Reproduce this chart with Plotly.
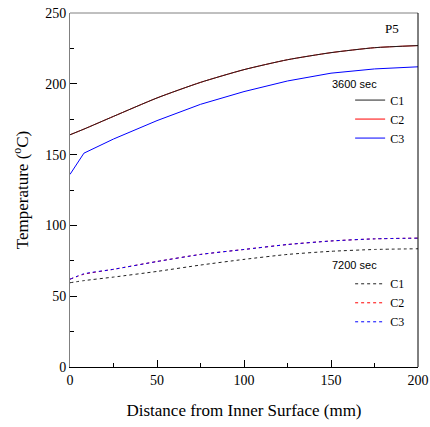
import plotly.graph_objects as go

# distance from inner surface (mm)
distance = [0, 8, 25, 50, 75, 100, 125, 150, 175, 200]

# temperature (C) after 3600 sec
t3600_c1 = [164, 168, 177, 190, 201, 210, 217, 222, 225.5, 227]
t3600_c2 = [164, 168, 177, 190, 201, 210, 217, 222, 225.5, 227]
t3600_c3 = [136, 151, 161, 174, 185.5, 194.5, 202, 207.5, 210.5, 212]

# temperature (C) after 7200 sec
t7200_c1 = [59.5, 61, 63.5, 67.5, 72, 76, 79.5, 81.7, 83, 83.5]
t7200_c2 = [62, 65.5, 69, 74.5, 79.5, 83, 86.5, 89, 90.5, 91]
t7200_c3 = [62, 65.8, 69, 74.5, 79.5, 83, 86.5, 89, 90.5, 91]

serif = "Times New Roman, Liberation Serif, DejaVu Serif, serif"
sans = "Arial, Liberation Sans, sans-serif"

fig = go.Figure()

# drawing order: C2 underneath, so C1 / C3 sit on top as in the original
# (3600 C3 has a sharp kink near the surface, so it stays linear)
series = [
    (t3600_c2, "C2", "red", "solid", "legend", 2, "spline"),
    (t3600_c1, "C1", "#202020", "solid", "legend", 1, "spline"),
    (t3600_c3, "C3", "blue", "solid", "legend", 3, "linear"),
    (t7200_c2, "C2", "red", "3px,3px", "legend2", 2, "spline"),
    (t7200_c1, "C1", "#202020", "3px,3px", "legend2", 1, "spline"),
    (t7200_c3, "C3", "blue", "3px,3px", "legend2", 3, "spline"),
]
for vals, name, color, dash, leg, rank, shape in series:
    fig.add_trace(go.Scatter(
        x=distance, y=vals, name=name, mode="lines",
        line=dict(color=color, width=1, dash=dash, shape=shape, smoothing=0.6),
        legend=leg, legendrank=rank,
    ))

legend_style = dict(
    bgcolor="rgba(0,0,0,0)",
    font=dict(family=serif, size=12, color="black"),
    itemwidth=30,
    tracegroupgap=0,
    traceorder="normal",
    xanchor="left", yanchor="top",
)

fig.update_layout(
    width=430, height=427,
    margin=dict(l=70, r=12, t=13, b=60),
    plot_bgcolor="white", paper_bgcolor="white",
    showlegend=True,
    legend=dict(x=0.805, y=0.795, **legend_style),
    legend2=dict(x=0.805, y=0.276, **legend_style),
    xaxis=dict(
        range=[0, 200], tickvals=[0, 50, 100, 150, 200],
        ticks="inside", ticklen=7, tickcolor="black",
        minor=dict(tickvals=[25, 75, 125, 175], ticks="inside", ticklen=4, tickcolor="black"),
        showgrid=False, zeroline=False, automargin=False,
        ticklabeloverflow="allow",
        showline=True, linecolor="black", linewidth=1,
        tickfont=dict(family=serif, size=14, color="black"),
        title=dict(text="Distance from Inner Surface (mm)",
                   font=dict(family=serif, size=17, color="black"), standoff=17),
    ),
    yaxis=dict(
        range=[0, 250], tickvals=[0, 50, 100, 150, 200, 250],
        ticks="inside", ticklen=7, tickcolor="black",
        minor=dict(tickvals=[25, 75, 125, 175, 225], ticks="inside", ticklen=4, tickcolor="black"),
        showgrid=False, zeroline=False, automargin=False,
        ticklabeloverflow="allow",
        showline=True, linecolor="gray", linewidth=1,
        tickfont=dict(family=serif, size=14, color="black"),
        title=dict(text="Temperature (<sup>o</sup>C)",
                   font=dict(family=serif, size=17, color="black"), standoff=12),
    ),
    shapes=[
        dict(type="line", xref="paper", yref="paper", x0=0, x1=1, y0=1, y1=1,
             line=dict(color="gray", width=1)),
        dict(type="line", xref="paper", yref="paper", x0=1, x1=1, y0=0, y1=1,
             line=dict(color="black", width=1)),
    ],
    annotations=[
        dict(text="P5", xref="paper", yref="paper", x=0.95, y=0.957,
             xanchor="right", yanchor="middle", showarrow=False,
             font=dict(family=serif, size=13, color="black")),
        dict(text="3600 sec", xref="paper", yref="paper", x=0.747, y=0.80,
             xanchor="left", yanchor="middle", showarrow=False,
             font=dict(family=sans, size=11, color="black")),
        dict(text="7200 sec", xref="paper", yref="paper", x=0.747, y=0.288,
             xanchor="left", yanchor="middle", showarrow=False,
             font=dict(family=sans, size=11, color="black")),
    ],
)

# drop the default 8px body margin so the 430x427 figure fills the window
fig.write_html(
    "out.html",
    config={"displayModeBar": False},
    post_script="document.body.style.margin='0';",
)
